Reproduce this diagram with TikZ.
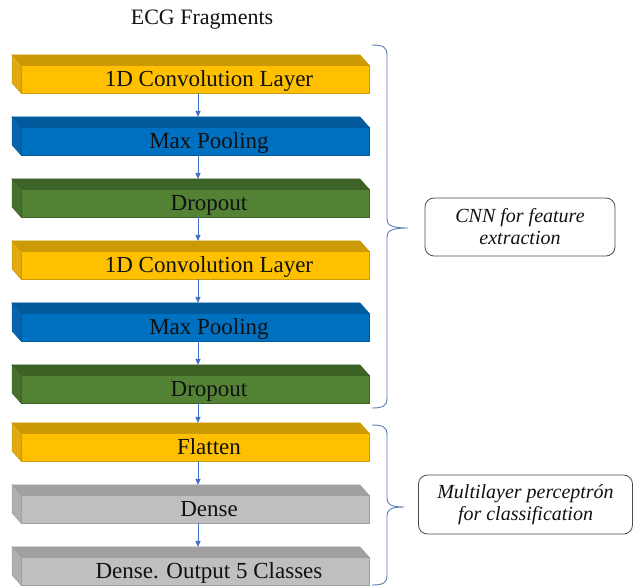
\documentclass[tikz,border=0pt]{standalone}
\usepackage{fontspec}
\setmainfont{Liberation Serif}
\usetikzlibrary{calc,arrows.meta}
\definecolor{yFront}{HTML}{FFC000}
\definecolor{yTop}{HTML}{CC9A06}
\definecolor{ySide}{HTML}{E0AA10}
\definecolor{bFront}{HTML}{0070C0}
\definecolor{bTop}{HTML}{005A9C}
\definecolor{bSide}{HTML}{0A64AC}
\definecolor{gFront}{HTML}{548235}
\definecolor{gTop}{HTML}{3D6226}
\definecolor{gSide}{HTML}{48702D}
\definecolor{sFront}{HTML}{BFBFBF}
\definecolor{sTop}{HTML}{A0A0A0}
\definecolor{sSide}{HTML}{AFAFAF}
\definecolor{arrowblue}{HTML}{4472C4}
\definecolor{bracecol}{HTML}{5B7BB4}
\definecolor{txt}{HTML}{111111}
\tikzset{
  layerbox/.style={rectangle, anchor=north west, minimum width=348pt, minimum height=28pt, inner sep=0pt, outer sep=0pt, line width=0.5pt},
  layertext/.style={anchor=base, inner sep=0pt, text=txt, font=\fontsize{23}{23}\selectfont},
  flow/.style={draw=arrowblue, line width=0.8pt, -{Triangle[length=6pt,width=5pt]}},
  bracket/.style={draw=bracecol, line width=0.9pt},
  callout/.style={draw=black!70, line width=0.8pt, rounded corners=9pt, align=center, inner sep=0pt, text=txt, font=\fontsize{20}{22}\selectfont\itshape}
}
\newcommand\layer[6]{%
  \node[layerbox, fill=#3, draw=#4] (#1) at (21,#2) {};
  \filldraw[fill=#4, draw=#4, line width=0.5pt] (#1.north west) -- ++(-9,-10) -- ($(#1.north east)+(-9,-10)$) -- (#1.north east) -- cycle;
  \filldraw[fill=#5, draw=#4, line width=0.5pt] (#1.north west) -- ++(-9,-10) -- ($(#1.south west)+(-9,-10)$) -- (#1.south west) -- cycle;
  \node[layertext] (#1t) at ($(#1.north west)+(188,21.6)$) {#6};
}
\begin{document}
\begin{tikzpicture}[x=1pt,y=-1pt]
\useasboundingbox (0,0) rectangle (633,588);
\node[anchor=base, inner sep=0pt, text=txt, font=\fontsize{22}{22}\selectfont] (title) at (202,25) {ECG Fragments};

\layer{l1}{65}{yFront}{yTop}{ySide}{1D Convolution Layer}
\layer{l2}{127}{bFront}{bTop}{bSide}{Max Pooling}
\layer{l3}{189}{gFront}{gTop}{gSide}{Dropout}
\layer{l4}{251}{yFront}{yTop}{ySide}{1D Convolution Layer}
\layer{l5}{313}{bFront}{bTop}{bSide}{Max Pooling}
\layer{l6}{375}{gFront}{gTop}{gSide}{Dropout}
\layer{l7}{433}{yFront}{yTop}{ySide}{Flatten}
\layer{l8}{495}{sFront}{sTop}{sSide}{Dense}
\layer{l9}{557}{sFront}{sTop}{sSide}{Dense. Output 5 Classes}

\foreach \a/\b in {l1/l2,l2/l3,l3/l4,l4/l5,l5/l6,l6/l7,l7/l8,l8/l9}{
  \draw[flow] ([xshift=3pt]\a.south) -- ([xshift=3pt,yshift=10pt]\b.north);
}

% braces
\coordinate (b1top) at (372,45);
\coordinate (b1bot) at (372,408);
\coordinate (b1tip) at (408,228);
\draw[bracket] (b1top) .. controls (383,45) and (387,47) .. (387,55) -- (387,219)
  .. controls (387,225) and (391,228) .. (b1tip)
  .. controls (391,228) and (387,231) .. (387,237) -- (387,398)
  .. controls (387,406) and (383,408) .. (b1bot);
\coordinate (b2top) at (372,425);
\coordinate (b2bot) at (372,585);
\coordinate (b2tip) at (404,507);
\draw[bracket] (b2top) .. controls (383,425) and (387,427) .. (387,435) -- (387,498)
  .. controls (387,504) and (390,507) .. (b2tip)
  .. controls (390,507) and (387,510) .. (387,516) -- (387,575)
  .. controls (387,583) and (383,585) .. (b2bot);

\node[callout, minimum width=190pt, minimum height=58pt] (cnn) at (520,227) {CNN for feature\\extraction};
\node[callout, minimum width=214pt, minimum height=59pt] (mlp) at (525.5,504.5) {Multilayer perceptrón\\for classification};
\end{tikzpicture}
\end{document}
